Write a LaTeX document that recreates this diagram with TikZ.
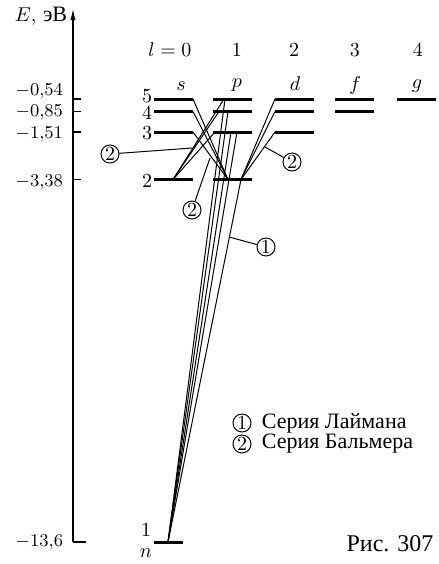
\documentclass[tikz,border=0pt]{standalone}
\usepackage{fontspec}
\usepackage{tikz}
\usetikzlibrary{arrows.meta,positioning}
\newfontfamily\cyr{Liberation Serif}

\begin{document}
\begin{tikzpicture}[
    x=0.5pt, y=-0.5pt,
    font=\fontsize{10}{12}\selectfont,
    level/.style={line width=1.5pt},
    trans/.style={line width=0.5pt},
    axis/.style={line width=0.75pt},
    elabel/.style={anchor=east, inner sep=0.3pt, font=\fontsize{9.4}{10}\selectfont},
    nlabel/.style={inner sep=1pt},
    num/.style={circle, draw, line width=0.5pt, inner sep=0pt, minimum size=9pt},
    key/.style={font=\cyr\fontsize{11}{12}\selectfont, inner sep=0pt}
]
    \useasboundingbox (0,0) rectangle (439,564);

    % energy axis
    \coordinate (axbot) at (73,542);
    \coordinate (axtop) at (73,8);
    \draw[axis, -{Latex[length=6pt,width=2.6pt]}] (axbot) -- (axtop);
    \draw[axis] (axbot) -- ++(13,0);
    \foreach \y in {99,111.5,132,179.5}
        \draw[axis] (73,\y) -- ++(8,0);
    \node (elab) at (41,16) {$E$, {\cyr\fontsize{11}{12}\selectfont эВ}};
    \node[elabel] (e5) at (64,91) {$-0{,}54$};
    \node[elabel] (e4) at (64,112) {$-0{,}85$};
    \node[elabel] (e3) at (64,134) {$-1{,}51$};
    \node[elabel] (e2) at (64,182) {$-3{,}38$};
    \node[elabel] (e1) at (64,542) {$-13{,}6$};

    % l and term letters
    \node (l0) at (170,50) {$l=0$};
    \node (l1) at (237,50) {$1$};
    \node (l2) at (294,50) {$2$};
    \node (l3) at (355,50) {$3$};
    \node (l4) at (418,50) {$4$};
    \node (ts) at (181,86) {$s$};
    \node (tp) at (237,85) {$p$};
    \node (td) at (295,84) {$d$};
    \node (tf) at (355,85) {$f$};
    \node (tg) at (417,86) {$g$};

    % levels
    \foreach \y in {99,111.5,132,179.5} {
        \draw[level] (154,\y) -- (193,\y);
        \draw[level] (213,\y) -- (252,\y);
    }
    \foreach \y in {99,111.5,132}
        \draw[level] (275,\y) -- (314,\y);
    \foreach \y in {99,111.5}
        \draw[level] (335,\y) -- (374,\y);
    \draw[level] (397,99) -- (436,99);
    \draw[level] (154,542) -- (183,542);

    \node[nlabel] (n5) at (147,96) {$5$};
    \node[nlabel] (n4) at (147,113) {$4$};
    \node[nlabel] (n3) at (147,133) {$3$};
    \node[nlabel] (n2) at (147,181) {$2$};
    \node[nlabel] (n1) at (146,530) {$1$};
    \node[nlabel] (nn) at (146,553) {$n$};

    % points on the levels
    \coordinate (s1) at (168,542);
    \coordinate (s2) at (173,179.5);
    \coordinate (s3) at (193,132);
    \coordinate (s4) at (193,111.5);
    \coordinate (s5) at (193,99);
    \coordinate (p2a) at (228,179.5);
    \coordinate (p2b) at (241,179.5);
    \coordinate (p3) at (215,132);
    \coordinate (p4) at (219,111.5);
    \coordinate (p5) at (224,99);
    \coordinate (d3) at (275,132);
    \coordinate (d4) at (275,111.5);
    \coordinate (d5) at (275,99);
    \coordinate (q5) at (225,99);
    \coordinate (q4) at (228,111.5);
    \coordinate (q3) at (231,132);
    \coordinate (r3) at (237,132);

    % Balmer
    \foreach \k in {3,4,5} {
        \draw[trans] (s2) -- (p\k);
        \draw[trans] (s\k) -- (p2a);
        \draw[trans] (d\k) -- (p2b);
    }
    % Lyman
    \foreach \t in {q5,q4,q3,r3,p2b}
        \draw[trans] (s1) -- (\t);

    % callouts
    \node[num] (ca) at (110,154) {$2$};
    \node[num] (cb) at (192,210) {$2$};
    \node[num] (cc) at (292,162) {$2$};
    \node[num] (cl) at (266,247) {$1$};
    \coordinate (ta) at (192,148);
    \coordinate (tb) at (210,158);
    \coordinate (tc) at (265,147);
    \coordinate (tl) at (229,237);
    \draw[trans] (ca) -- (ta);
    \draw[trans] (cb) -- (tb);
    \draw[trans] (cc) -- (tc);
    \draw[trans] (cl) -- (tl);

    % legend
    \node[num] (k1) at (242,423) {$1$};
    \node[num] (k2) at (242,444) {$2$};
    \node[key, right=5pt of k1] (k1t) {Серия Лаймана};
    \node[key, right=5pt of k2] (k2t) {Серия Бальмера};

    \node[font=\cyr\fontsize{12}{14}\selectfont] (fig) at (390,544) {Рис. 307};
\end{tikzpicture}
\end{document}
